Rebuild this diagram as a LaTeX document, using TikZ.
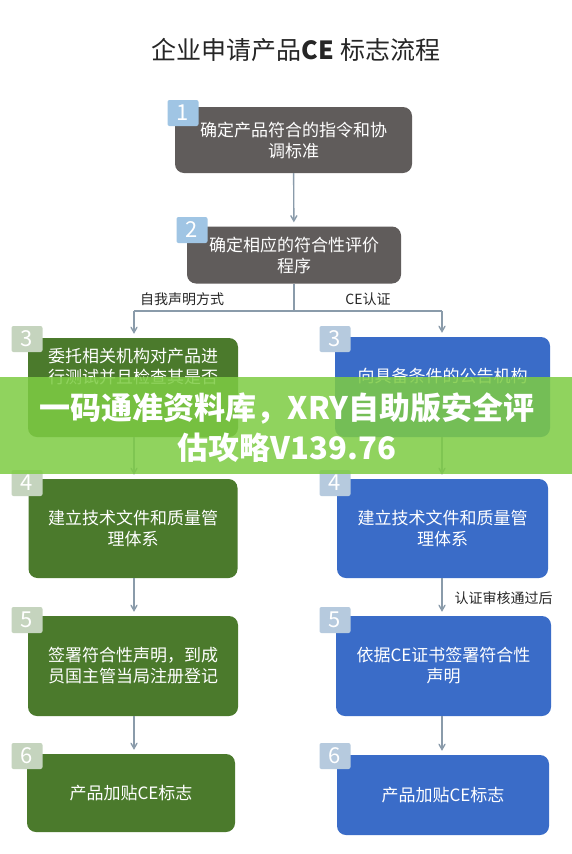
\documentclass[tikz,border=0pt]{standalone}
\usepackage{fontspec}
\setmainfont{Noto Sans CJK SC}
\usepackage{xcolor}
\usepackage{tikz}
\usetikzlibrary{shapes.geometric, arrows}
\usetikzlibrary{positioning}
\definecolor{boxgrey}{RGB}{96,92,91}
\definecolor{boxgreen}{RGB}{75,122,44}
\definecolor{boxblue}{RGB}{58,108,200}
\definecolor{badgeblue}{RGB}{160,197,228}
\definecolor{badgegreen}{RGB}{197,212,190}
\definecolor{badgesteel}{RGB}{182,202,222}
\definecolor{linegrey}{RGB}{138,155,170}
\definecolor{bannergreen}{RGB}{126,204,68}
\tikzstyle{stepBox} = [rectangle, rounded corners=9pt, text=white, align=center, inner sep=0pt, font=\fontsize{17}{21}\selectfont]
\tikzstyle{greyBox} = [stepBox, fill=boxgrey]
\tikzstyle{greenBox} = [stepBox, fill=boxgreen]
\tikzstyle{blueBox} = [stepBox, fill=boxblue]
\tikzstyle{badge} = [rectangle, rounded corners=2pt, minimum width=31pt, minimum height=26pt, inner sep=0pt, text=white, font=\fontsize{22}{22}\selectfont]
\tikzstyle{arrow} = [line width=1.4pt, ->, >=angle 60, draw=linegrey, shorten >=4pt]
\tikzstyle{link} = [line width=1.4pt, -, draw=linegrey]
\tikzstyle{note} = [font=\fontsize{14}{16}\selectfont, text=black!85]

\begin{document}
\begin{tikzpicture}[x=1pt, y=-1pt]
                                \useasboundingbox [fill=white] (0,0) rectangle (572,854);
                                \node (title) [font=\fontsize{25}{28}\selectfont, text=black!85] at (296,50) {企业申请产品\textbf{CE} 标志流程};
                                \node (s1) [greyBox, minimum width=237pt, minimum height=66pt] at (293.5,140) {确定产品符合的指令和协\\调标准};
                                \node (s2) [greyBox, minimum width=214pt, minimum height=57pt] at (294,255) {确定相应的符合性评价\\程序};
                                \node (l3) [greenBox, minimum width=210pt, minimum height=99pt] at (133,387.5) {委托相关机构对产品进\\行测试并且检查其是否\\\phantom{符合}\\\phantom{要求}};
                                \node (r3) [blueBox, minimum width=215pt, minimum height=100pt] at (442.5,387) {向具备条件的公告机构\\\phantom{提出}};
                                \node (l4) [greenBox, minimum width=209pt, minimum height=99pt] at (133,528.5) {建立技术文件和质量管\\理体系};
                                \node (r4) [blueBox, minimum width=211pt, minimum height=99pt] at (442.5,528.5) {建立技术文件和质量管\\理体系};
                                \node (l5) [greenBox, minimum width=210pt, minimum height=100pt] at (133,666) {签署符合性声明，到成\\员国主管当局注册登记};
                                \node (r5) [blueBox, minimum width=215pt, minimum height=100pt] at (443.5,666) {依据CE证书签署符合性\\声明};
                                \node (l6) [greenBox, minimum width=208pt, minimum height=78pt] at (131,793) {产品加贴CE标志};
                                \node (r6) [blueBox, minimum width=212pt, minimum height=80pt] at (443,795) {产品加贴CE标志};
                                \node (b1) [badge, fill=badgeblue] at (183,113) {1};
                                \node (b2) [badge, fill=badgeblue] at (192,230) {2};
                                \node (bl3) [badge, fill=badgegreen] at (27,339) {3};
                                \node (br3) [badge, fill=badgesteel] at (335,339) {3};
                                \node (bl4) [badge, fill=badgegreen] at (27,483) {4};
                                \node (br4) [badge, fill=badgesteel] at (335,483) {4};
                                \node (bl5) [badge, fill=badgegreen] at (27,620) {5};
                                \node (br5) [badge, fill=badgesteel] at (335,620) {5};
                                \node (bl6) [badge, fill=badgegreen] at (27,756) {6};
                                \node (br6) [badge, fill=badgesteel] at (335,756) {6};
                                \coordinate (split) at (294,311);
                                \coordinate (splitL) at (134,311);
                                \coordinate (splitR) at (442,311);
                                \draw [arrow] (s1) -- (s2);
                                \draw [link] (s2) -- (split);
                                \draw [link] (splitL) -- (splitR);
                                \draw [arrow] (splitL) -- (splitL |- l3.north);
                                \draw [arrow] (splitR) -- (splitR |- r3.north);
                                \draw [arrow] (splitL |- l3.south) -- (splitL |- l4.north);
                                \draw [arrow] (splitR |- r3.south) -- (splitR |- r4.north);
                                \draw [arrow] (splitL |- l4.south) -- (splitL |- l5.north);
                                \draw [arrow] (splitR |- r4.south) -- (splitR |- r5.north);
                                \draw [arrow] (splitL |- l5.south) -- (splitL |- l6.north);
                                \draw [arrow] (splitR |- r5.south) -- (splitR |- r6.north);
                                \node (self) [note] at (182,299) {自我声明方式};
                                \node (cert) [note] at (368,299) {CE认证};
                                \node (passed) [note, anchor=west] at (451,598) {认证审核通过后};
                                \fill [bannergreen, opacity=0.86] (0,377) rectangle (572,474);
                                \node (banner) [text=white, align=center, font=\bfseries\fontsize{31}{40}\selectfont] at (287,428) {一码通准资料库，XRY自助版安全评\\估攻略V139.76};
                            \end{tikzpicture}
\end{document}
